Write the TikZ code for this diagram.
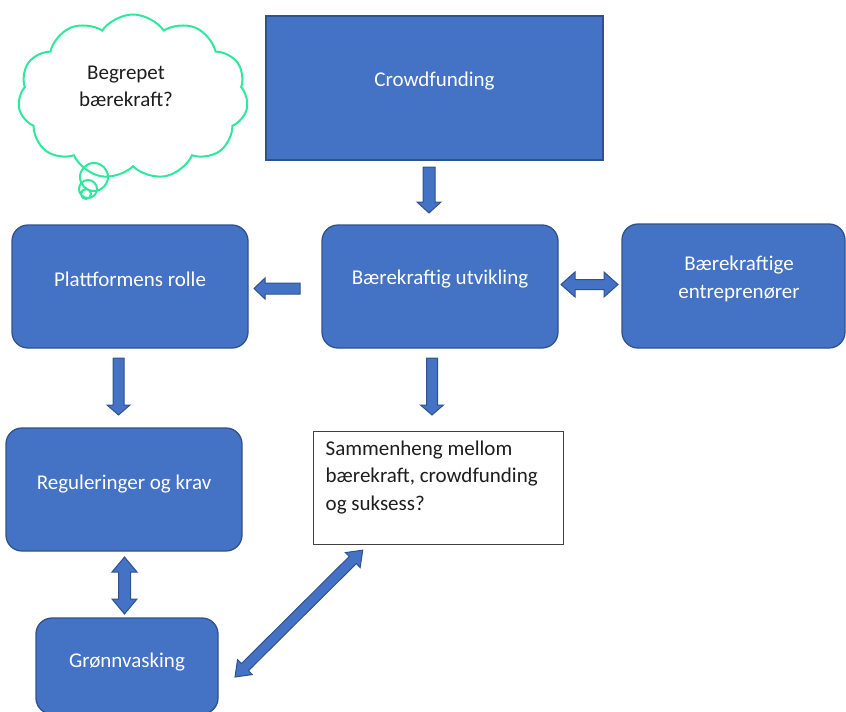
\documentclass[tikz,border=0pt]{standalone}
\usepackage{fontspec}
\setmainfont{Carlito}
\usetikzlibrary{shapes.symbols}
\definecolor{bfill}{RGB}{68,114,196}
\definecolor{bline}{RGB}{47,82,143}
\definecolor{cgreen}{RGB}{46,232,155}
\definecolor{tgray}{RGB}{30,30,30}
% #1 start coordinate, #2 angle, #3 length, #4 shaft half width, #5 head half width, #6 head length
\newcommand\blkarrow[6]{%
  \begin{scope}[shift={#1}, rotate=#2]
  \filldraw[arrowst] (0,-#4) -- ({#3-#6},-#4) -- ({#3-#6},-#5) -- (#3,0) -- ({#3-#6},#5) -- ({#3-#6},#4) -- (0,#4) -- cycle;
  \end{scope}}
\newcommand\dblarrow[6]{%
  \begin{scope}[shift={#1}, rotate=#2]
  \filldraw[arrowst] (0,0) -- (#6,-#5) -- (#6,-#4) -- ({#3-#6},-#4) -- ({#3-#6},-#5) -- (#3,0) -- ({#3-#6},#5) -- ({#3-#6},#4) -- (#6,#4) -- (#6,#5) -- cycle;
  \end{scope}}
\begin{document}
\begin{tikzpicture}[x=1pt,y=-1pt,
  bbox/.style={draw=bline, line width=1.3pt, fill=bfill, rounded corners=16pt, inner sep=0pt},
  btext/.style={text=white, font=\fontsize{21}{28}\selectfont, align=center, inner sep=0pt},
  arrowst/.style={draw=bline, fill=bfill, line width=1pt, line join=miter}]
\useasboundingbox (0,0) rectangle (846,712);
\clip (0,0) rectangle (846,712);

% cloud
\node[cloud, draw=cgreen, line width=2pt, cloud puffs=11, cloud puff arc=110, aspect=1.44,
      minimum width=230pt, minimum height=165pt, inner sep=0pt] (cloud) at (133,97) {};
\draw[cgreen, line width=2pt] (94,177) circle (14) (88,189) circle (9) (86,194) circle (5);
\node[text=tgray, font=\fontsize{21}{27}\selectfont, align=center] (ctext) at (126,86) {Begrepet\\bærekraft?};

% boxes
\node[bbox, rounded corners=0pt, minimum width=337pt, minimum height=144pt] (crowd) at (434.5,88) {};
\node[btext] (tcrowd) at (434.5,81) {Crowdfunding};

\node[bbox, minimum width=236pt, minimum height=123pt] (platt) at (130,286.5) {};
\node[btext] (tplatt) at (130,279) {Plattformens rolle};

\node[bbox, minimum width=236pt, minimum height=123pt] (utv) at (440,286.5) {};
\node[btext] (tutv) at (440,279) {Bærekraftig utvikling};

\node[bbox, minimum width=223pt, minimum height=124pt] (entr) at (733.5,286) {};
\node[btext] (tentr) at (739,279) {Bærekraftige\\entreprenører};

\node[bbox, minimum width=236pt, minimum height=123pt] (reg) at (124,489.5) {};
\node[btext] (treg) at (124,484) {Reguleringer og krav};

\node[bbox, minimum width=182pt, minimum height=96pt] (gron) at (127,666) {};
\node[btext] (tgron) at (127,662) {Grønnvasking};

\node[draw=black!75, line width=1pt, fill=white, minimum width=250pt, minimum height=113pt, inner sep=0pt] (samm) at (438,487.5) {};
\node[anchor=north west, text=tgray, font=\fontsize{21}{27.5}\selectfont, align=left, inner sep=0pt] (tsamm) at ([shift={(13,10)}]samm.north west) {Sammenheng mellom\\bærekraft, crowdfunding\\og suksess?};

% block arrow start points
\coordinate (a1) at (429,167);
\coordinate (a2) at (300,288.5);
\coordinate (a3) at (561,284.5);
\coordinate (a4) at (118.5,358);
\coordinate (a5) at (432,358);
\coordinate (a6) at (124.5,557);
\coordinate (a7) at (235,677);

\blkarrow{(a1)}{-90}{46}{6}{12}{11}
\blkarrow{(a2)}{180}{46}{5.5}{10.5}{11}
\dblarrow{(a3)}{0}{57}{5}{12.5}{14}
\blkarrow{(a4)}{-90}{57}{5.5}{11.5}{10}
\blkarrow{(a5)}{-90}{57}{5.5}{11.5}{10}
\dblarrow{(a6)}{-90}{57}{6}{12.5}{15}
\dblarrow{(a7)}{44.8}{180}{5}{10.5}{14}
\end{tikzpicture}
\end{document}
